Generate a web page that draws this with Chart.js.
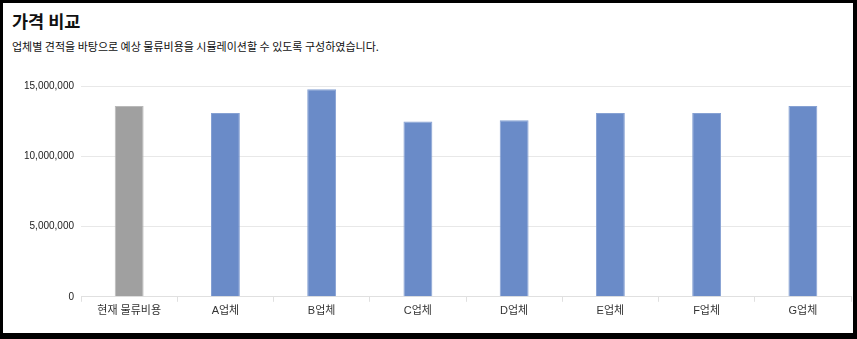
<!DOCTYPE html>
<html><head><meta charset="utf-8">
<script src="https://cdn.jsdelivr.net/npm/chart.js@4/dist/chart.umd.min.js"></script>
<style>
html,body{margin:0;padding:0;background:#000;width:857px;height:339px;overflow:hidden;}
#box{position:absolute;left:3px;top:3px;width:850px;height:330px;background:#fff;}
h1{position:absolute;left:9px;top:5px;margin:0;font:bold 17.5px "Noto Sans CJK KR",sans-serif;color:#111;}
p{position:absolute;left:9px;top:35px;margin:0;font:11px "Noto Sans CJK KR",sans-serif;color:#111;}
#wrap{position:absolute;left:0px;top:70px;width:850px;height:248px;}
</style></head><body>
<div id="box">
<h1>가격 비교</h1>
<p>업체별 견적을 바탕으로 예상 물류비용을 시뮬레이션할 수 있도록 구성하였습니다.</p>
<div id="wrap"><canvas id="c"></canvas></div>
</div>
<script>
const categories = ["현재 물류비용","A업체","B업체","C업체","D업체","E업체","F업체","G업체"];
const costs = [13570000,13070000,14760000,12480000,12570000,13070000,13070000,13570000];
const yTicks = [0,5000000,10000000,15000000];

const fill = categories.map((c,i)=> i===0 ? "#a0a0a0" : "#6a8bc8");
const edge = categories.map((c,i)=> i===0 ? "#b9b9b9" : "#86a1d3");

new Chart(document.getElementById("c"),{
  type:"bar",
  data:{labels:categories,datasets:[{data:costs,backgroundColor:fill,borderColor:edge,borderWidth:1,barPercentage:0.3,categoryPercentage:1}]},
  options:{
    responsive:true,maintainAspectRatio:false,animation:false,
    layout:{padding:{left:14,right:2,top:0,bottom:0}},
    plugins:{legend:{display:false},tooltip:{enabled:false}},
    scales:{
      x:{grid:{drawOnChartArea:false,drawTicks:true,tickLength:5,color:"#e0e0e0"},border:{color:"#e0e0e0"},
         ticks:{color:"#333",font:{family:"'Liberation Sans','Noto Sans CJK KR',sans-serif",size:11},padding:3}},
      y:{min:0,max:15000000,afterBuildTicks:(ax)=>{ax.ticks=yTicks.map(v=>({value:v}));},
         grid:{color:"#e8e8e8",drawTicks:false},border:{display:false},
         ticks:{color:"#222",font:{family:"'Liberation Sans',sans-serif",size:10},padding:7,callback:v=>v.toLocaleString("en-US")}}
    }
  }
});
</script>
</body></html>
